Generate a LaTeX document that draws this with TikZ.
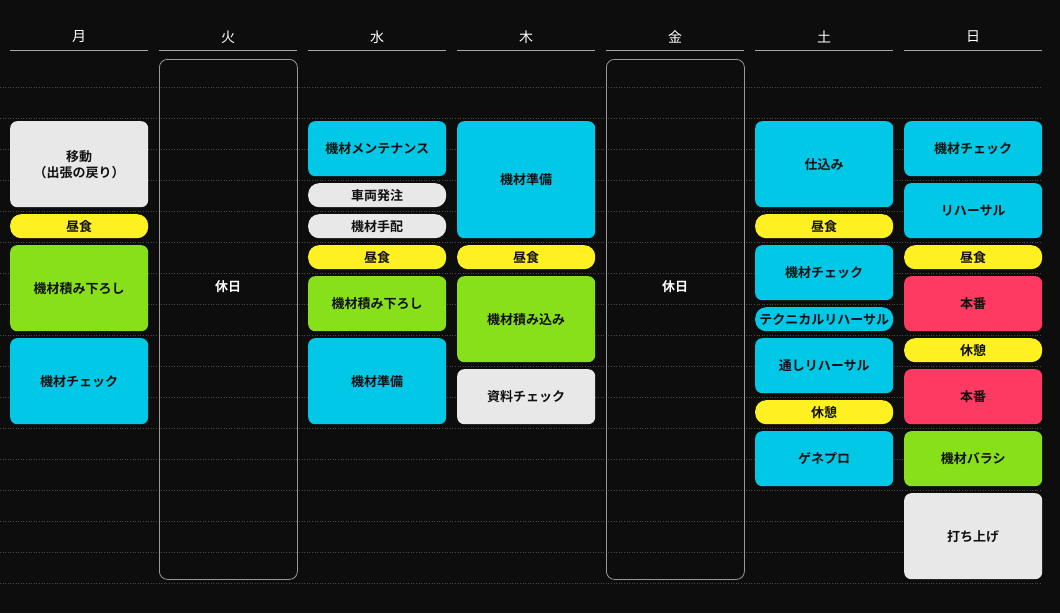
\documentclass[tikz,border=0pt]{standalone}
\usepackage{fontspec}
\setmainfont{Noto Sans CJK JP}[BoldFont={Noto Sans CJK JP Bold}]
\usepackage{tikz}
\definecolor{bgdark}{HTML}{0D0D0D}
\definecolor{gridgray}{HTML}{4A4A4A}
\definecolor{cyanblk}{HTML}{00C8E6}
\definecolor{greenblk}{HTML}{88E01A}
\definecolor{yellowblk}{HTML}{FFF022}
\definecolor{grayblk}{HTML}{E8E8E8}
\definecolor{redblk}{HTML}{FF3A62}
\definecolor{inktext}{HTML}{111111}
\tikzset{
  blk/.style={anchor=north west, minimum width=138pt, inner sep=0pt, text=inktext,
    font=\fontsize{13}{16}\selectfont\bfseries, align=center, rounded corners=7pt},
  pill/.style={blk, rounded corners=11pt},
  dayhead/.style={text=white, font=\fontsize{14}{16}\selectfont},
  holiday/.style={draw=gray!80, rounded corners=8pt, line width=0.8pt},
}
% col, row, rows, colour, text
\newcommand{\slotbox}[6]{%
  \node[blk, fill=#5, minimum height={31*#4-7}] (#1) at ({10+149*#2},{59+31*#3}) {#6};}
\newcommand{\slotpill}[5]{%
  \node[pill, fill=#4, minimum height=24pt] (#1) at ({10+149*#2},{59+31*#3}) {#5};}
\begin{document}
\begin{tikzpicture}[x=1pt,y=-1pt]
\fill[bgdark] (0,0) rectangle (1060,613);
\useasboundingbox (0,0) rectangle (1060,613);
% grid
\foreach \k in {1,...,17}
  \draw[gridgray, dotted, line width=0.6pt] (0,{56+31*\k}) -- (1042,{56+31*\k});
% day headers
\foreach \d [count=\i from 0] in {月,火,水,木,金,土,日} {
  \node[dayhead] (head\i) at ({79+149*\i},37) {\d};
  \draw[gray!70, line width=0.8pt] ({10+149*\i},50) -- ({148+149*\i},50);
}
% holidays
\node[holiday, anchor=north west, minimum width=138pt, minimum height=520pt,
  text=white, font=\fontsize{13}{16}\selectfont\bfseries] (tueoff) at (159,59) {};
\node[text=white, font=\fontsize{13}{16}\selectfont\bfseries] (tuelabel) at (228,287) {休日};
\node[holiday, anchor=north west, minimum width=138pt, minimum height=520pt] (frioff) at (606,59) {};
\node[text=white, font=\fontsize{13}{16}\selectfont\bfseries] (frilabel) at (675,287) {休日};
% Monday
\slotbox{mon1}{0}{2}{3}{grayblk}{移動\\（出張の戻り）}
\slotpill{mon2}{0}{5}{yellowblk}{昼食}
\slotbox{mon3}{0}{6}{3}{greenblk}{機材積み下ろし}
\slotbox{mon4}{0}{9}{3}{cyanblk}{機材チェック}
% Wednesday
\slotbox{wed1}{2}{2}{2}{cyanblk}{機材メンテナンス}
\slotpill{wed2}{2}{4}{grayblk}{車両発注}
\slotpill{wed3}{2}{5}{grayblk}{機材手配}
\slotpill{wed4}{2}{6}{yellowblk}{昼食}
\slotbox{wed5}{2}{7}{2}{greenblk}{機材積み下ろし}
\slotbox{wed6}{2}{9}{3}{cyanblk}{機材準備}
% Thursday
\slotbox{thu1}{3}{2}{4}{cyanblk}{機材準備}
\slotpill{thu2}{3}{6}{yellowblk}{昼食}
\slotbox{thu3}{3}{7}{3}{greenblk}{機材積み込み}
\slotbox{thu4}{3}{10}{2}{grayblk}{資料チェック}
% Saturday
\slotbox{sat1}{5}{2}{3}{cyanblk}{仕込み}
\slotpill{sat2}{5}{5}{yellowblk}{昼食}
\slotbox{sat3}{5}{6}{2}{cyanblk}{機材チェック}
\slotpill{sat4}{5}{8}{cyanblk}{テクニカルリハーサル}
\slotbox{sat5}{5}{9}{2}{cyanblk}{通しリハーサル}
\slotpill{sat6}{5}{11}{yellowblk}{休憩}
\slotbox{sat7}{5}{12}{2}{cyanblk}{ゲネプロ}
% Sunday
\slotbox{sun1}{6}{2}{2}{cyanblk}{機材チェック}
\slotbox{sun2}{6}{4}{2}{cyanblk}{リハーサル}
\slotpill{sun3}{6}{6}{yellowblk}{昼食}
\slotbox{sun4}{6}{7}{2}{redblk}{本番}
\slotpill{sun5}{6}{9}{yellowblk}{休憩}
\slotbox{sun6}{6}{10}{2}{redblk}{本番}
\slotbox{sun7}{6}{12}{2}{greenblk}{機材バラシ}
\slotbox{sun8}{6}{14}{3}{grayblk}{打ち上げ}
\end{tikzpicture}
\end{document}
